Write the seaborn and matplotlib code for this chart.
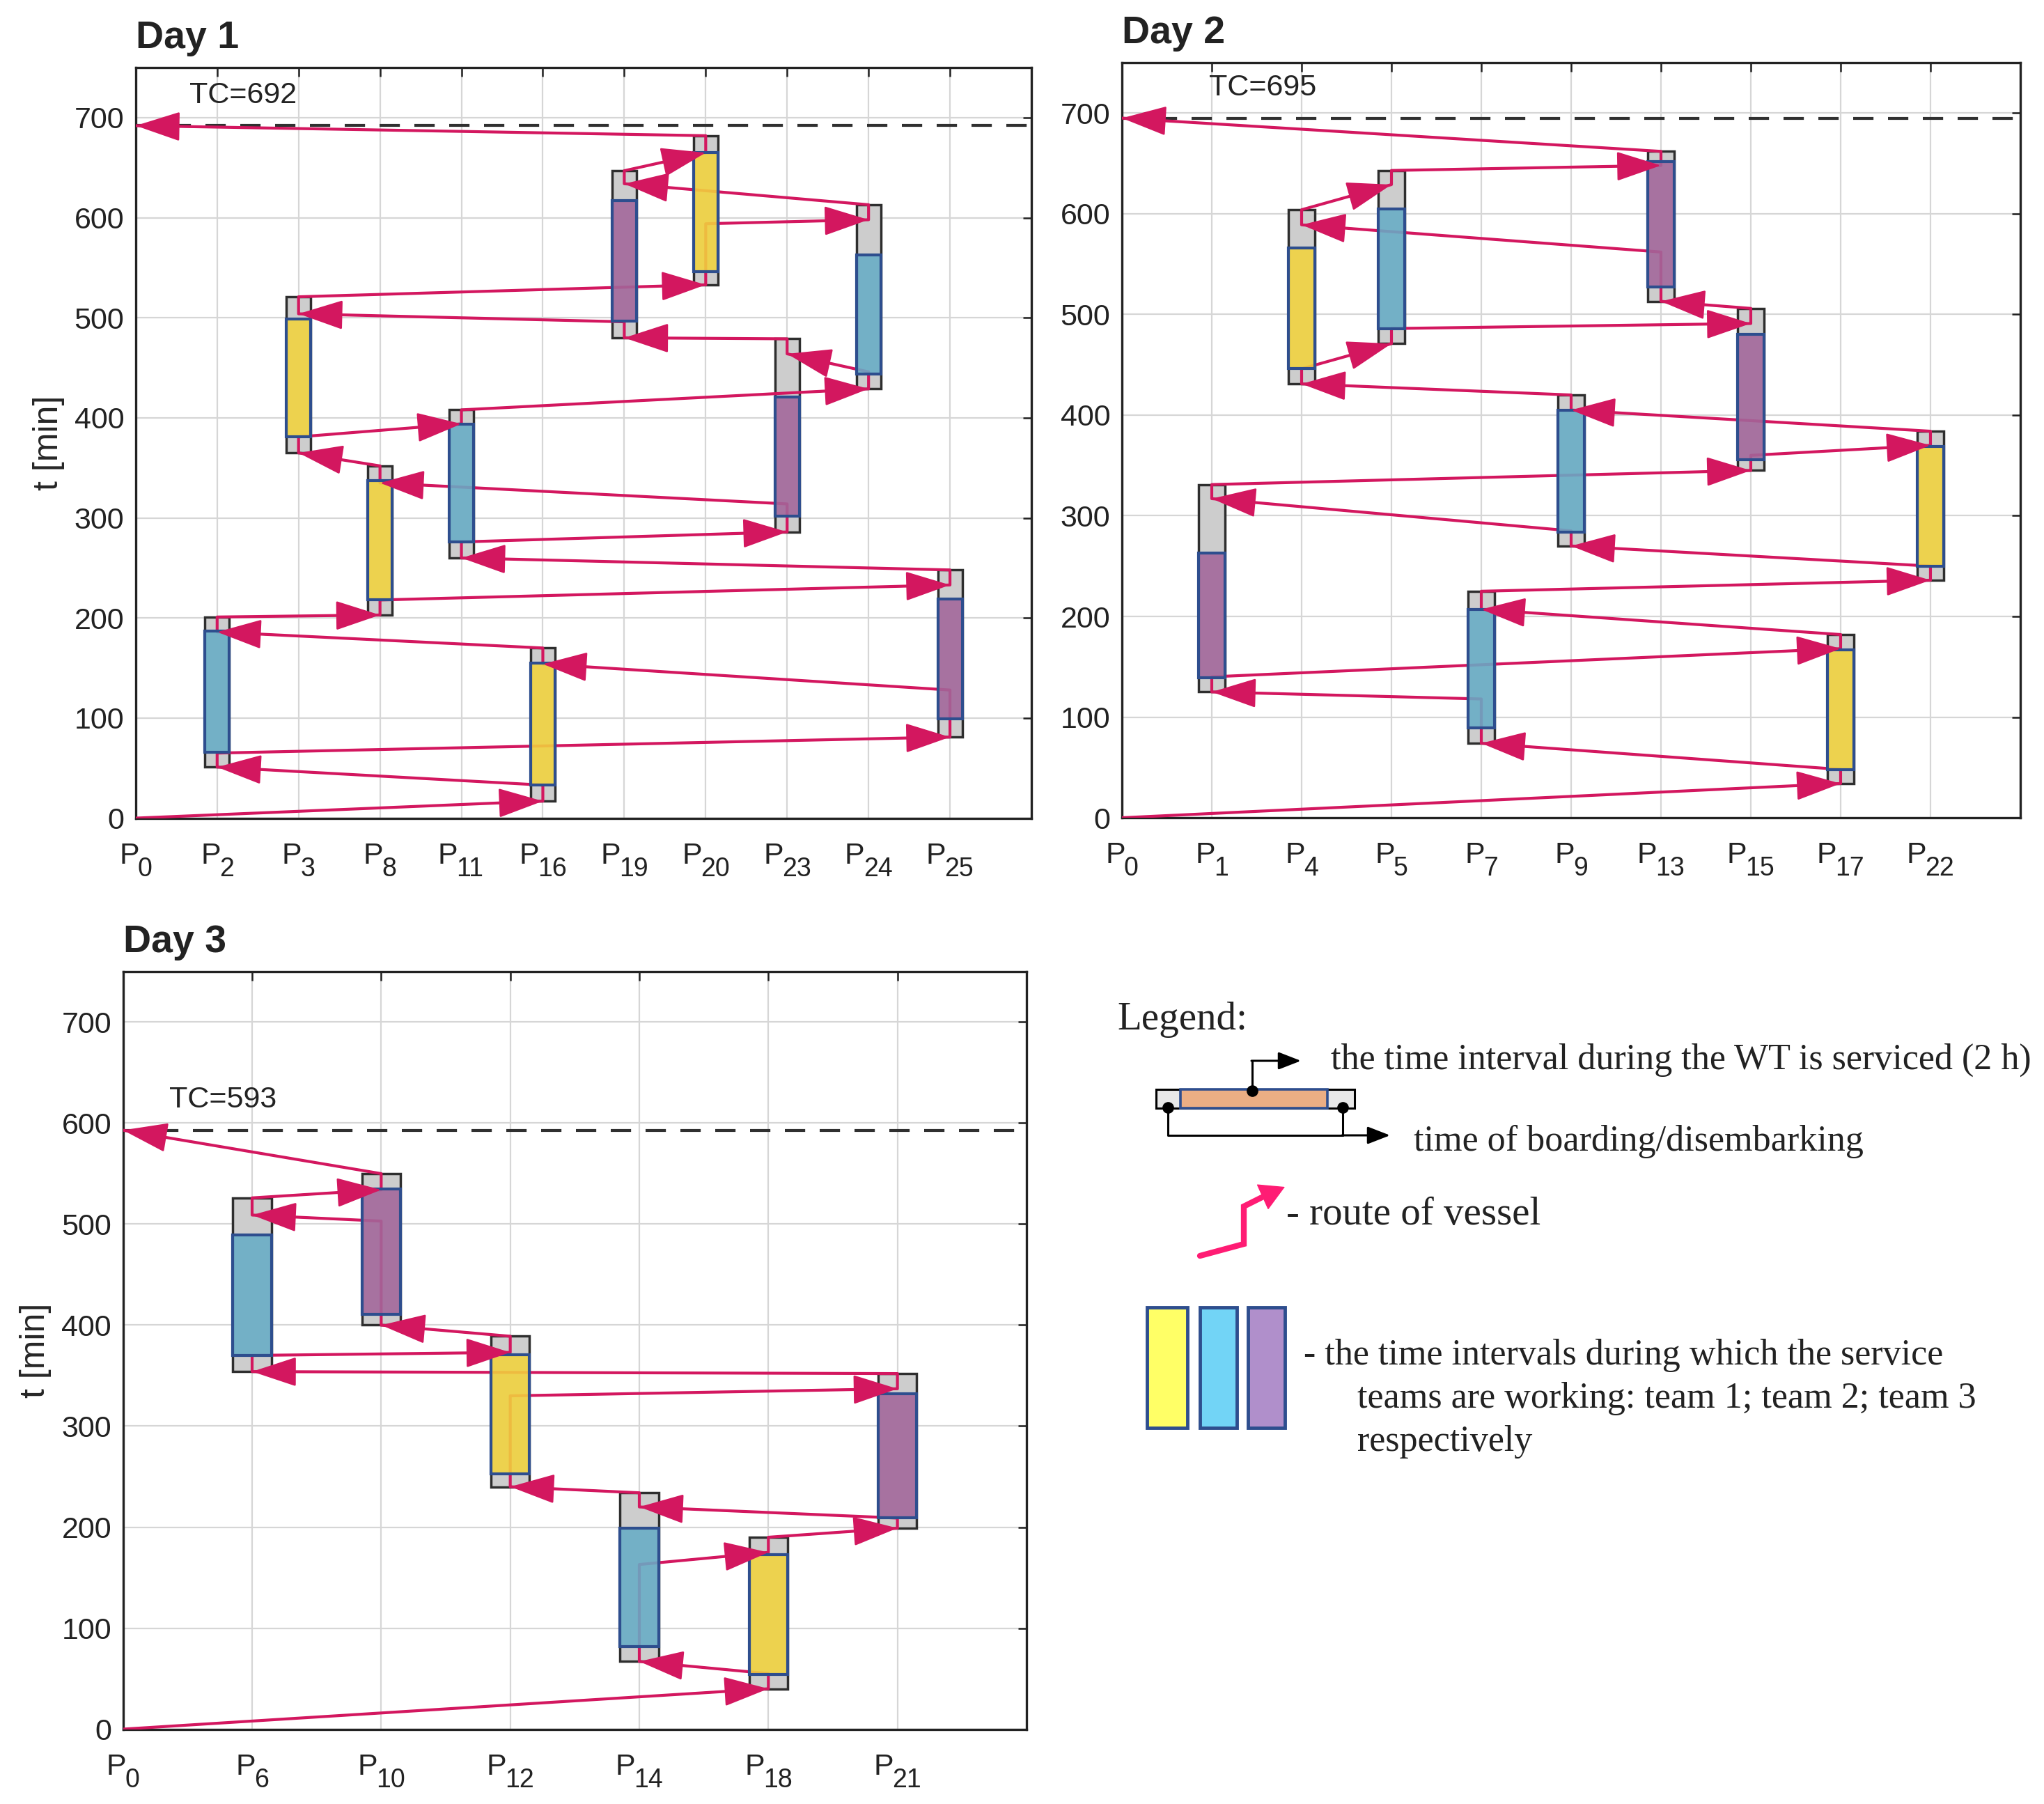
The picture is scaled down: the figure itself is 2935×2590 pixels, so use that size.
import matplotlib
matplotlib.use("Agg")
import matplotlib.pyplot as plt
import pandas as pd
import seaborn as sns
from matplotlib.colors import to_rgba
from matplotlib.patches import Rectangle

# ---- Day 1 ----
d1_sites = ["P0", "P2", "P3", "P8", "P11", "P16", "P19", "P20", "P23", "P24", "P25"]
d1_route = ["P0", "P16", "P2", "P25", "P16", "P2", "P8", "P25", "P11", "P23", "P8",
            "P3", "P11", "P24", "P23", "P19", "P3", "P20", "P24", "P19", "P20", "P0"]
d1_arrive = [0, 17, 51, 81, 154, 186, 203, 233, 260, 286, 335,
             365, 394, 429, 464, 480, 504, 533, 598, 634, 665, 692]
d1_depart = [0, 33, 65, 128, 170, 201, 218, 248, 276, 314, 352,
             381, 408, 446, 479, 496, 521, 594, 613, 647, 682, 692]
d1_team_site = ["P16", "P2", "P25", "P8", "P11", "P23", "P3", "P24", "P19", "P20"]
d1_team = [1, 2, 3, 1, 2, 3, 1, 2, 3, 1]
d1_team_start = [33, 66, 99, 218, 276, 302, 381, 444, 497, 546]
d1_team_end = [155, 187, 219, 337, 394, 421, 499, 563, 617, 665]
d1_tc = 692

# ---- Day 2 ----
d2_sites = ["P0", "P1", "P4", "P5", "P7", "P9", "P13", "P15", "P17", "P22"]
d2_route = ["P0", "P17", "P7", "P1", "P17", "P7", "P22", "P9", "P1", "P15",
            "P22", "P9", "P4", "P5", "P15", "P13", "P4", "P5", "P13", "P0"]
d2_arrive = [0, 34, 74, 125, 168, 207, 236, 270, 317, 345,
             370, 405, 431, 471, 491, 513, 589, 629, 648, 695]
d2_depart = [0, 48, 118, 140, 182, 225, 250, 285, 331, 360,
             384, 420, 446, 486, 506, 562, 604, 643, 662, 695]
d2_team_site = ["P17", "P7", "P1", "P22", "P9", "P15", "P4", "P5", "P13"]
d2_team = [1, 2, 3, 1, 2, 3, 1, 2, 3]
d2_team_start = [48, 89, 139, 250, 284, 356, 446, 486, 527]
d2_team_end = [167, 207, 263, 369, 405, 480, 566, 605, 652]
d2_tc = 695

# ---- Day 3 ----
d3_sites = ["P0", "P6", "P10", "P12", "P14", "P18", "P21"]
d3_route = ["P0", "P18", "P14", "P18", "P21", "P14", "P12", "P21", "P6", "P12",
            "P10", "P6", "P10", "P0"]
d3_arrive = [0, 40, 67, 175, 199, 220, 240, 337, 354, 373, 400, 509, 534, 593]
d3_depart = [0, 55, 163, 190, 209, 234, 330, 352, 370, 389, 503, 526, 550, 593]
d3_team_site = ["P18", "P14", "P21", "P12", "P6", "P10"]
d3_team = [1, 2, 3, 1, 2, 3]
d3_team_start = [54, 82, 209, 253, 370, 411]
d3_team_end = [173, 199, 332, 371, 489, 535]
d3_tc = 593

TEAM_COLORS = {1: "#F2D33C", 2: "#67ACC6", 3: "#A2669A"}
ROUTE = "#D3175F"
BOX_W = 0.3
P_SIZE, SUB_SIZE = 31, 27

sns.set_theme(style="white")
plt.rcParams["font.family"] = ["Liberation Sans", "DejaVu Sans"]
plt.rcParams["text.color"] = "#222222"


def draw_day(ax, sites, route, arrive, depart, team_site, team, t_start, t_end,
             tc, title, tc_x, ylabel=True):
    xpos = {s: i for i, s in enumerate(sites)}

    # grey boxes: from drop-off arrival to pick-up departure
    stops = pd.DataFrame({"site": route, "arrive": arrive, "depart": depart})
    occ = stops[stops.site != "P0"].groupby("site").agg(lo=("arrive", "min"), hi=("depart", "max"))
    ax.bar([xpos[s] for s in occ.index], occ.hi - occ.lo, bottom=occ.lo, width=BOX_W,
           color="#CDCDCD", edgecolor="#2E2E2E", linewidth=2.5, zorder=2)

    ax.axhline(tc, color="#303030", ls=(0, (7, 5)), lw=3, zorder=2.5)
    ax.text(tc_x, tc + 30, f"TC={tc}", fontsize=31, va="center", ha="left", zorder=7)

    # vessel route incl. waiting at the turbines
    px, py = [], []
    for s, a, d in zip(route, arrive, depart):
        px += [xpos[s], xpos[s]]
        py += [a, d]
    sns.lineplot(x=px, y=py, sort=False, estimator=None, color=ROUTE, lw=3, ax=ax, zorder=3)

    # service teams
    ts = pd.Series(t_start)
    te = pd.Series(t_end)
    ax.bar([xpos[s] for s in team_site], te - ts, bottom=ts, width=BOX_W,
           color=[to_rgba(TEAM_COLORS[k], 0.88) for k in team],
           edgecolor="#2E4E8E", linewidth=3, zorder=4)

    # arrow heads at each arrival
    for i in range(len(route) - 1):
        x0, y0 = xpos[route[i]], depart[i]
        x1, y1 = xpos[route[i + 1]], arrive[i + 1]
        f = min(1.0, 0.7 / abs(x1 - x0))
        ax.annotate("", xy=(x1, y1), xytext=(x1 - f * (x1 - x0), y1 - f * (y1 - y0)),
                    arrowprops=dict(arrowstyle="-|>,head_length=1.0,head_width=0.33",
                                    mutation_scale=41, color=ROUTE, lw=2,
                                    shrinkA=0, shrinkB=0),
                    zorder=6)

    ax.set_xlim(0, len(sites))
    ax.set_ylim(0, 750)
    ax.set_xticks(range(len(sites)))
    ax.set_xticklabels([])
    # P with a large subscript, MATLAB style
    p_w = 0.62 * P_SIZE
    d_w = 0.556 * SUB_SIZE
    for i, s in enumerate(sites):
        digits = s[1:]
        left = -(p_w + len(digits) * d_w) / 2
        ax.annotate("P", xy=(i, 0), xycoords=("data", "axes fraction"), xytext=(left, -47),
                    textcoords="offset points", ha="left", va="baseline",
                    fontsize=P_SIZE, color="#222222", annotation_clip=False)
        ax.annotate(digits, xy=(i, 0), xycoords=("data", "axes fraction"),
                    xytext=(left + p_w, -60), textcoords="offset points", ha="left",
                    va="baseline", fontsize=SUB_SIZE, color="#222222", annotation_clip=False)
    ax.set_yticks(range(0, 701, 100))
    ax.grid(True, color="#D6D6D6", lw=1.6, zorder=0)
    ax.set_axisbelow(True)
    ax.tick_params(direction="in", top=True, right=True, length=9, width=1.8,
                   labelsize=31, pad=12, colors="#222222")
    for sp in ax.spines.values():
        sp.set_linewidth(2.4)
        sp.set_color("#222222")
    ax.set_title(title, loc="left", fontsize=40, fontweight="bold", pad=20)
    ax.set_xlabel("")
    if ylabel:
        ax.set_ylabel("t [min]", fontsize=36, labelpad=10)
    else:
        ax.set_ylabel("")


fig = plt.figure(figsize=(29.35, 25.9), dpi=100)
ax1 = fig.add_axes([0.0664, 0.5465, 0.4382, 0.4160])
ax2 = fig.add_axes([0.5489, 0.5467, 0.4395, 0.4185])
ax3 = fig.add_axes([0.0602, 0.0415, 0.4420, 0.4199])

draw_day(ax1, d1_sites, d1_route, d1_arrive, d1_depart, d1_team_site, d1_team,
         d1_team_start, d1_team_end, d1_tc, "Day 1", 0.66)
draw_day(ax2, d2_sites, d2_route, d2_arrive, d2_depart, d2_team_site, d2_team,
         d2_team_start, d2_team_end, d2_tc, "Day 2", 0.97, ylabel=False)
draw_day(ax3, d3_sites, d3_route, d3_arrive, d3_depart, d3_team_site, d3_team,
         d3_team_start, d3_team_end, d3_tc, "Day 3", 0.36)

# ---- legend panel (drawn in pixel coordinates of the figure) ----
lg = fig.add_axes([0, 0, 1, 1])
lg.set_xlim(0, 2935)
lg.set_ylim(2590, 0)
lg.axis("off")
serif = ["Liberation Serif", "DejaVu Serif"]
small_arrow = dict(arrowstyle="-|>,head_length=0.9,head_width=0.35", mutation_scale=22,
                   color="black", lw=2.2, shrinkA=0, shrinkB=0)

lg.text(1604, 1478, "Legend:", family=serif, fontsize=41, va="baseline")
lg.add_patch(Rectangle((1660, 1564), 285, 27, fc="#E8E8E8", ec="black", lw=2.2))
lg.add_patch(Rectangle((1695, 1564), 211, 27, fc="#EBAE84", ec="#2E4E8E", lw=2.6))
lg.plot([1798, 1798], [1566, 1523], color="black", lw=2.2)
lg.annotate("", xy=(1868, 1523), xytext=(1797, 1523), arrowprops=small_arrow)
lg.plot([1677, 1677, 1928], [1590, 1630, 1630], color="black", lw=2.2)
lg.plot([1928, 1928], [1590, 1630], color="black", lw=2.2)
lg.annotate("", xy=(1996, 1630), xytext=(1927, 1630), arrowprops=small_arrow)
lg.plot([1798, 1677, 1928], [1566, 1590, 1590], "o", color="black", ms=11)
lg.text(1911, 1535, "the time interval during the WT is serviced (2 h)", family=serif,
        fontsize=37.5, va="baseline")
lg.text(2030, 1652, "time of boarding/disembarking", family=serif, fontsize=37.5,
        va="baseline")

lg.plot([1723, 1786, 1786, 1812], [1803, 1786, 1732, 1719], color="#FF1C74", lw=6,
        solid_joinstyle="miter")
lg.annotate("", xy=(1845, 1704), xytext=(1805, 1722),
            arrowprops=dict(arrowstyle="-|>,head_length=0.8,head_width=0.45", mutation_scale=30,
                            color="#FF1C74", lw=1, shrinkA=0, shrinkB=0))
lg.text(1847, 1758, "- route of vessel", family=serif, fontsize=41, va="baseline")

for x0, w, c in [(1647, 58, "#FFFF66"), (1723, 53, "#72D4F6"), (1792, 53, "#B08FCB")]:
    lg.add_patch(Rectangle((x0, 1877), w, 173, fc=c, ec="#2E4E8E", lw=3.5))
lg.text(1872, 1959, "- the time intervals during which the service", family=serif,
        fontsize=37.5, va="baseline")
lg.text(1949, 2021, "teams are working: team 1; team 2; team 3", family=serif,
        fontsize=37.5, va="baseline")
lg.text(1949, 2083, "respectively", family=serif, fontsize=37.5, va="baseline")

fig.savefig("out.png", dpi=100)
